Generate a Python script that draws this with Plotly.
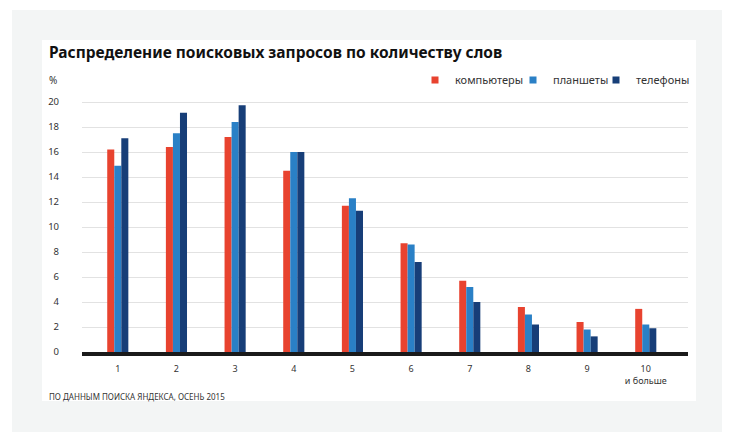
import plotly.graph_objects as go

categories = ["1", "2", "3", "4", "5", "6", "7", "8", "9", "10"]
tick_labels = ["1", "2", "3", "4", "5", "6", "7", "8", "9", "10<br>и больше"]
computers = [16.2, 16.4, 17.2, 14.5, 11.7, 8.7, 5.7, 3.6, 2.4, 3.45]
tablets = [14.9, 17.5, 18.4, 16.0, 12.3, 8.6, 5.2, 3.0, 1.8, 2.2]
phones = [17.1, 19.15, 19.75, 16.0, 11.3, 7.2, 4.0, 2.2, 1.25, 1.9]
y_ticks = [0, 2, 4, 6, 8, 10, 12, 14, 16, 18, 20]

names = ["компьютеры", "планшеты", "телефоны"]
colors = ["#e8432f", "#2a80c6", "#173e78"]

W, H = 737, 442
L, R, T, B = 82, 688, 95, 352
pw, ph = R - L, B - T


def px(x):
    return (x - L) / pw


def py(y):
    return (B - y) / ph


# left edge of each legend box (px), one legend per series
legend_left = [415, 513, 596]
legend_keys = ["legend", "legend2", "legend3"]

fig = go.Figure()
xs = list(range(len(categories)))
for name, vals, col, lk in zip(names, [computers, tablets, phones], colors, legend_keys):
    fig.add_trace(go.Bar(x=xs, y=vals, name=name, showlegend=False,
                         marker=dict(color=col, line=dict(width=0))))
    # legend entry with a small square swatch
    fig.add_trace(go.Scatter(x=[None], y=[None], mode="markers", name=name, legend=lk,
                             marker=dict(symbol="square", size=7, color=col, line=dict(width=0)),
                             showlegend=True, hoverinfo="skip"))

font = "Noto Sans"
legend_common = dict(
    orientation="h", y=py(80), yanchor="middle", xanchor="left",
    font=dict(size=11, color="#333333", family=font),
    itemwidth=30, bgcolor="rgba(0,0,0,0)",
)

layout_legends = {}
for lk, lx in zip(legend_keys, legend_left):
    layout_legends[lk] = dict(legend_common, x=px(lx))

fig.update_layout(
    width=W, height=H,
    margin=dict(l=L, r=W - R, t=T, b=H - B),
    paper_bgcolor="white",
    plot_bgcolor="rgba(0,0,0,0)",
    barmode="group",
    bargap=0.64,
    bargroupgap=0,
    font=dict(family=font, color="#333333", size=10),
    showlegend=True,
    xaxis=dict(
        range=[-0.61, 9.72], tickmode="array", tickvals=xs, ticktext=tick_labels,
        showgrid=False, zeroline=False, showline=True, linecolor="#1a1a1a", linewidth=4,
        ticks="", tickfont=dict(size=9, color="#333333"), ticklabelstandoff=5,
    ),
    yaxis=dict(
        range=[0, 20.56], tickmode="array", tickvals=y_ticks,
        showgrid=True, gridcolor="#e2e2e2", gridwidth=1, zeroline=False,
        ticks="", tickfont=dict(size=9.5, color="#333333"), ticklabelstandoff=22,
    ),
    shapes=[
        dict(type="rect", xref="paper", yref="paper", x0=px(12), x1=px(722), y0=py(432), y1=py(10),
             fillcolor="#f3f5f5", line=dict(width=0), layer="below"),
        dict(type="rect", xref="paper", yref="paper", x0=px(42), x1=px(696), y0=py(401), y1=py(40),
             fillcolor="white", line=dict(width=0), layer="below"),
    ],
    annotations=[
        dict(text="<b>Распределение поисковых запросов по количеству слов</b>", xref="paper", yref="paper",
             x=px(47), y=py(52), xanchor="left", yanchor="middle", showarrow=False,
             font=dict(size=15.5, color="#111111", family=font)),
        dict(text="%", xref="paper", yref="paper", x=px(47), y=py(80), xanchor="left", yanchor="middle",
             showarrow=False, font=dict(size=10, color="#333333", family=font)),
        dict(text="ПО ДАННЫМ ПОИСКА ЯНДЕКСА, ОСЕНЬ 2015", xref="paper", yref="paper", x=px(47), y=py(396),
             xanchor="left", yanchor="middle", showarrow=False, font=dict(size=8, color="#333333", family=font)),
    ],
    **layout_legends,
)

fig.write_html("out.html", config={"displayModeBar": False},
               post_script="document.body.style.margin='0';")
